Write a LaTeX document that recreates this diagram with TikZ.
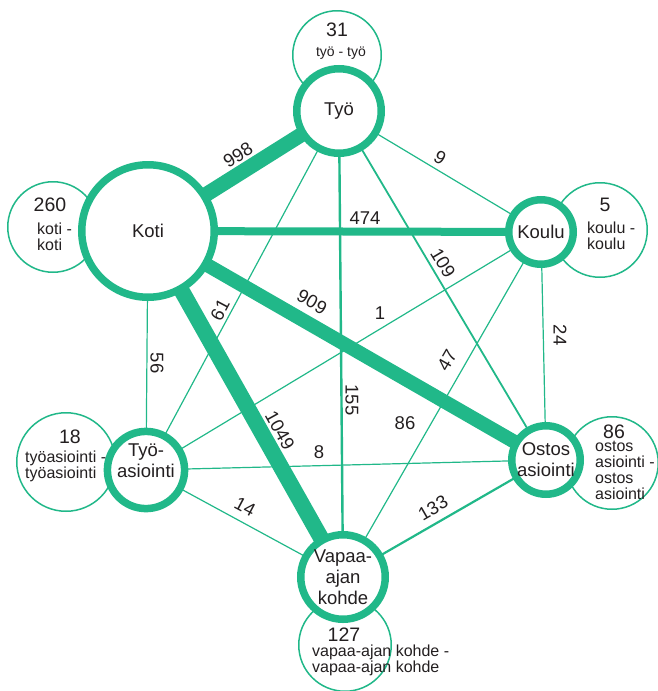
\documentclass[tikz,border=0pt]{standalone}
\usepackage{fontspec}
\setmainfont{Liberation Sans}
\usetikzlibrary{backgrounds}
\definecolor{flowgreen}{RGB}{33,184,137}
\definecolor{txtgray}{RGB}{35,31,32}

\begin{document}
\begin{tikzpicture}[x=1pt, y=-1pt, font=\fontsize{18.5}{21}\selectfont, text=txtgray,
  hub/.style={circle, draw=flowgreen, line width=7.5pt, fill=white, align=center, inner sep=0pt},
  selfring/.style={circle, draw=flowgreen, line width=1.5pt, fill=white, inner sep=0pt},
  selfnum/.style={font=\fontsize{19.5}{20}\selectfont, inner sep=0pt},
  selftext/.style={font=\fontsize{16}{16}\selectfont, align=left, anchor=west, inner sep=0pt},
  flow/.style={draw=flowgreen},
  flowlabel/.style={inner sep=1pt}
]
  \useasboundingbox (0,0) rectangle (657,691);
  % Self-flow rings
  \foreach \n/\x/\y/\r in {tyoself/337/55/45, kotiself/53/227/46, kouluself/600/230/48,
                           ostosself/612/463/47, vapaaself/345/645/47, tyoasself/66/462/50}
    \node[selfring, minimum size=2*\r-1.5] (\n) at (\x,\y) {};

  % Places
  \node[hub, minimum size=132.5pt] (Koti) at (148,231) {Koti};
  \node[hub, minimum size=84.5pt] (Tyo) at (339,111) {Työ};
  \node[hub, minimum size=64.5pt] (Koulu) at (541,232) {Koulu};
  \node[hub, minimum size=68.5pt] (Ostos) at (546,460) {Ostos\\asiointi};
  \node[hub, minimum size=84.5pt] (Vapaa) at (343,577) {Vapaa-\\ajan\\kohde};
  \node[hub, minimum size=70.5pt, text depth=18pt] (TyoAs) at (146,470) {Työ-\\asiointi};

  % Flows between places
  \begin{scope}[on background layer]
    \foreach \a/\b/\w in {Koti/Tyo/15, Koti/Koulu/8, Koti/Ostos/14, Koti/Vapaa/16,
                          Koti/TyoAs/1.2, Tyo/Koulu/1.2, Tyo/TyoAs/1.2, Tyo/Vapaa/2.4,
                          Tyo/Ostos/1.8, Koulu/TyoAs/1.2, Koulu/Ostos/1.2, Koulu/Vapaa/1.2,
                          TyoAs/Ostos/1.2, TyoAs/Vapaa/1.2, Ostos/Vapaa/2.2}
      \draw[flow, line width=\w pt] (\a.center) -- (\b.center);
  \end{scope}

  % Flow counts
  \foreach \v/\x/\y/\a in {998/238/155/32, 474/365/218/0, 9/440/158/-31, 109/443/263/-59,
                           909/312/302/-30, 61/220/310/62, 1/380/313/0, 56/157/363/-90,
                           155/352/400/-90, 47/447/360/60, 86/405/423/0, 1049/280/430/-61,
                           8/319/452/0, 14/245/507/-28, 133/433/508/30, 24/560/335/-90}
    \node[flowlabel, rotate=\a] (n\v) at (\x,\y) {\v};

  % Self-flow texts
  \node[selfnum] (tyonum) at (337,30) {31};
  \node[font=\fontsize{14}{14}\selectfont, inner sep=0pt] (tyotxt) at (341,53) {työ - työ};
  \node[selfnum] (kotinum) at (50,205) {260};
  \node[selftext] (kotitxt) at (37,237) {koti -\\koti};
  \node[selfnum] (koulunum) at (605,205) {5};
  \node[selftext] (koulutxt) at (587,235.5) {koulu -\\koulu};
  \node[selfnum] (ostosnum) at (614,432) {86};
  \node[selftext] (ostostxt) at (595,470) {ostos\\asiointi -\\ostos\\asiointi};
  \node[selfnum] (tyoasnum) at (70,437) {18};
  \node[selftext] (tyoastxt) at (25,466) {työasiointi -\\työasiointi};
  \node[selfnum] (vapaanum) at (344,635) {127};
  \node[selftext] (vapaatxt) at (312,660) {vapaa-ajan kohde -\\vapaa-ajan kohde};
\end{tikzpicture}
\end{document}
